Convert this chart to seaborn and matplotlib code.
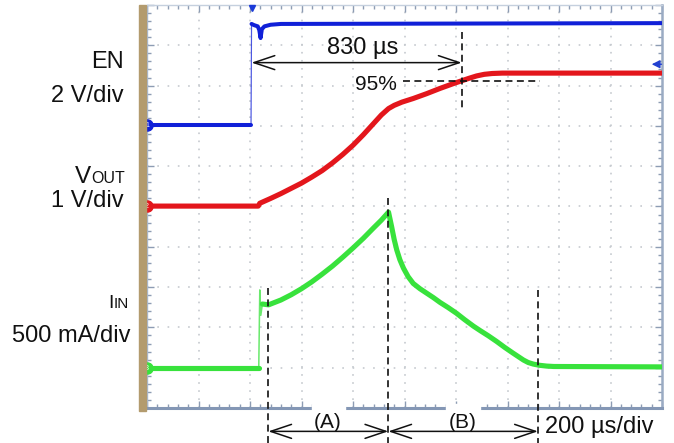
import numpy as np
import pandas as pd
import matplotlib
matplotlib.use("Agg")
import matplotlib.pyplot as plt
import seaborn as sns
from matplotlib.patches import Rectangle
from matplotlib.ticker import MultipleLocator

# ---- data (time in divisions of 200 us, level in screen divisions) ----
en_t = [0.00, 2.02, 2.02, 2.03, 2.03, 2.08, 2.15, 2.18, 2.205, 2.23, 2.28, 2.40, 2.60, 10.0]
en_v = [7.02, 7.02, 7.02, 9.53, 9.53, 9.50, 9.47, 9.38, 9.18, 9.40, 9.47, 9.51, 9.53, 9.55]
en_part = [0, 0, 1, 1, 2, 2, 2, 2, 2, 2, 2, 2, 2, 2]

vo_t = [0.00, 2.16, 2.19, 2.40, 2.60, 2.80, 3.00, 3.20, 3.40, 3.60, 3.80, 4.00,
        4.20, 4.40, 4.55, 4.69, 4.80, 4.95, 5.17, 5.43, 5.69, 5.95, 6.11, 6.25,
        6.40, 6.55, 6.70, 6.90, 10.0]
vo_v = [5.01, 5.01, 5.08, 5.20, 5.32, 5.45, 5.58, 5.73, 5.89, 6.08, 6.29, 6.52,
        6.78, 7.06, 7.27, 7.43, 7.51, 7.59, 7.68, 7.80, 7.93, 8.05, 8.12, 8.18,
        8.24, 8.28, 8.30, 8.31, 8.31]
vo_part = [2] * len(vo_t)

ii_t = [0.00, 2.17, 2.17, 2.19, 2.21, 2.24, 2.24, 2.36, 2.60, 2.80, 3.00, 3.20,
        3.40, 3.60, 3.80, 4.00, 4.20, 4.40, 4.55, 4.69, 4.72, 4.75, 4.80, 4.85,
        4.91, 4.98, 5.07, 5.17, 5.30, 5.43, 5.56, 5.69, 5.85, 6.01, 6.17, 6.34,
        6.47, 6.63, 6.79, 6.95, 7.11, 7.31, 7.40, 7.50, 7.62, 7.76, 7.90, 10.0]
ii_v = [0.99, 0.99, 0.99, 2.93, 2.30, 2.58, 2.58, 2.56, 2.68, 2.81, 2.96, 3.13,
        3.32, 3.52, 3.74, 3.97, 4.21, 4.47, 4.66, 4.86, 4.68, 4.50, 4.18, 3.92,
        3.68, 3.47, 3.26, 3.09, 2.96, 2.85, 2.74, 2.62, 2.49, 2.35, 2.19, 2.03,
        1.92, 1.79, 1.65, 1.50, 1.36, 1.19, 1.13, 1.09, 1.06, 1.04, 1.03, 1.02]
ii_part = [0, 0, 1, 1, 1, 1] + [2] * 42

# annotation times / levels (divisions)
t_en, t_95, t_a, t_b, t_c = 2.03, 6.11, 2.355, 4.685, 7.59
lvl_95 = 8.11

# ---- style ----
sns.set_theme(style="white")
plt.rcParams["font.family"] = ["Liberation Sans", "DejaVu Sans"]
plt.rcParams["lines.scale_dashes"] = False

W, H = 674, 443
fig = plt.figure(figsize=(W / 100, H / 100), dpi=100)
fig.patch.set_facecolor("white")
ax = fig.add_axes([147 / W, 35 / H, 515 / W, 403 / H])
ax.set_xlim(0, 10)
ax.set_ylim(0, 10)
ax.set_facecolor("white")

# dotted graticule
for k in range(1, 10):
    ax.axvline(k, color="#c6cacf", lw=1.2, ls=(0, (1.2, 4.6)), zorder=0.5)
    ax.axhline(k, color="#c6cacf", lw=1.2, ls=(0, (1.2, 6.2)), zorder=0.5)

ax.xaxis.set_major_locator(MultipleLocator(1))
ax.xaxis.set_minor_locator(MultipleLocator(0.2))
ax.yaxis.set_major_locator(MultipleLocator(1))
ax.yaxis.set_minor_locator(MultipleLocator(0.2))
ax.tick_params(which="both", direction="in", bottom=True, top=True, left=True,
               right=True, labelbottom=False, labelleft=False,
               color="#8d9cb3", width=1)
ax.tick_params(which="major", length=5)
ax.tick_params(which="minor", length=3)

ax.spines["left"].set_color("#a8bcd8"); ax.spines["left"].set_linewidth(1.0)
ax.spines["bottom"].set_color("#8497b5"); ax.spines["bottom"].set_linewidth(2.2)
ax.spines["right"].set_color("#9aabc3"); ax.spines["right"].set_linewidth(1.8)
ax.spines["top"].set_color("#c5d0de"); ax.spines["top"].set_linewidth(1.0)

# tan strip at left of screen
fig.add_artist(Rectangle((139 / W, (443 - 411) / H), 7 / W, 406 / H,
                         transform=fig.transFigure, color="#b39b6e", zorder=5))


def draw(t, v, part, color, lw):
    df = pd.DataFrame({"t": t, "v": v, "part": part})
    for p, g in df.groupby("part"):
        w = lw * 0.3 if p == 1 else lw
        sns.lineplot(data=g, x="t", y="v", ax=ax, color=color, lw=w,
                     estimator=None, sort=False, legend=False, zorder=3,
                     alpha=0.75 if p == 1 else 1.0)


draw(en_t, en_v, en_part, "#1020d8", 2.9)
draw(vo_t, vo_v, vo_part, "#e3161c", 3.7)
draw(ii_t, ii_v, ii_part, "#38e23c", 3.7)
ax.set_xlabel("")
ax.set_ylabel("")

# channel markers
for lvl, col, lab in [(en_v[0], "#1020d8", "1"), (vo_v[0], "#e3161c", "2"),
                      (ii_v[0], "#38e23c", "3")]:
    ax.plot([0], [lvl], marker="o", ms=8, color=col, mec=col, clip_on=False, zorder=6)
    ax.text(0, lvl, lab, color="white", fontsize=5, ha="center", va="center",
            zorder=7, clip_on=False)

# trigger markers
ax.plot([t_en], [9.92], marker="v", ms=5, color="#1a3ad8", clip_on=False, zorder=6)
ax.annotate("", xy=(9.80, 8.53), xytext=(9.99, 8.53),
            arrowprops=dict(arrowstyle="-|>,head_length=0.4,head_width=0.2",
                            color="#2240d0", lw=1, shrinkA=0, shrinkB=0),
            annotation_clip=False)

# annotations
dash = (0, (5, 3.2))
kblack = "#111111"
arr = dict(arrowstyle="<->,head_length=1.25,head_width=0.42", color=kblack,
           lw=1.1, shrinkA=0, shrinkB=0)

ax.annotate("", xy=(t_en, 8.57), xytext=(t_95, 8.57), arrowprops=arr,
            annotation_clip=False, zorder=5)
ax.text((t_en + t_95) / 2 + 0.11, 8.78, "830 µs", fontsize=17, ha="center",
        va="baseline", color=kblack, zorder=5)
ax.plot([t_95, t_95], [9.34, 7.44], color=kblack, lw=1.2, ls=dash, zorder=5)
ax.plot([4.97, 7.63], [lvl_95, lvl_95], color=kblack, lw=1.2, ls=dash, zorder=5)
ax.text(4.44, 7.89, "95%", fontsize=15, ha="center", va="baseline",
        color=kblack, zorder=5)

ax.plot([t_a, t_a], [2.98, -0.87], color=kblack, lw=1.2, ls=dash, clip_on=False, zorder=5)
ax.plot([t_b, t_b], [5.21, -0.87], color=kblack, lw=1.2, ls=dash, clip_on=False, zorder=5)
ax.plot([t_c, t_c], [2.93, -0.87], color=kblack, lw=1.2, ls=dash, clip_on=False, zorder=5)
ax.annotate("", xy=(t_a, -0.58), xytext=(t_b, -0.58), arrowprops=arr,
            annotation_clip=False)
ax.annotate("", xy=(t_b, -0.58), xytext=(t_c, -0.58), arrowprops=arr,
            annotation_clip=False)
fig.add_artist(Rectangle((312 / W, (443 - 411) / H), 33 / W, 7 / H,
                         transform=fig.transFigure, color="white", zorder=5))
fig.add_artist(Rectangle((446 / W, (443 - 411) / H), 34 / W, 7 / H,
                         transform=fig.transFigure, color="white", zorder=5))
ax.text((t_a + t_b) / 2 - 0.02, -0.50, "(A)", fontsize=15, ha="center",
        va="baseline", color=kblack, clip_on=False, zorder=6)
ax.text((t_b + t_c) / 2 - 0.01, -0.49, "(B)", fontsize=15, ha="center",
        va="baseline", color=kblack, clip_on=False, zorder=6)
ax.text(7.73, -0.61, "200 µs/div", fontsize=17, ha="left", va="baseline",
        color=kblack, clip_on=False, zorder=6)

# left channel labels
def ftext(x, y, s, fs, ha="right"):
    fig.text(x / W, 1 - y / H, s, fontsize=fs, ha=ha, va="baseline", color=kblack)

ftext(124, 68.3, "EN", 17)
ftext(124, 101.5, "2 V/div", 17)
ftext(91, 183.3, "V", 17.5)
ftext(91, 183.3, "OUT", 11.5, ha="left")
ftext(124, 206.5, "1 V/div", 17)
ftext(113.5, 308, "I", 14)
ftext(113.5, 308, "IN", 11, ha="left")
ftext(131, 341.5, "500 mA/div", 17)

fig.savefig("out.png", dpi=100)
